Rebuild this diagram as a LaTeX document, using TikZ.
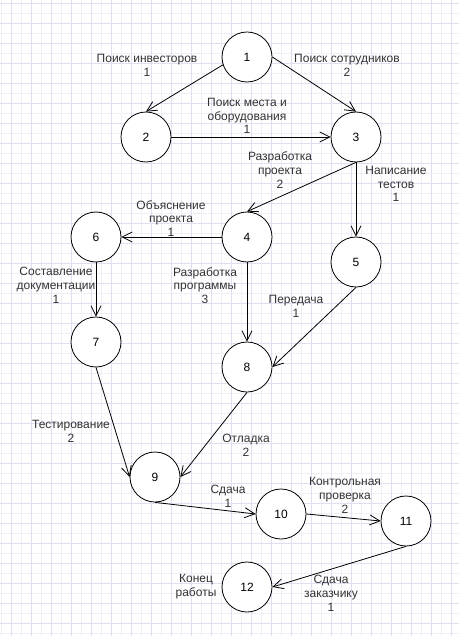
\documentclass[tikz,border=0pt]{standalone}
\usepackage{fontspec}
\setmainfont{Liberation Sans}
\usetikzlibrary{arrows.meta}
\definecolor{gridA}{HTML}{DFDFF0}
\definecolor{gridB}{HTML}{EFEFF7}
\definecolor{txt}{HTML}{333333}
\begin{document}
\begin{tikzpicture}[x=1pt,y=-1pt,
  ev/.style={circle,draw=black,fill=white,minimum size=50pt,inner sep=0pt,line width=0.8pt,font=\fontsize{12}{14}\selectfont},
  lbl/.style={align=center,text=txt,font=\fontsize{12}{13.8}\selectfont,inner sep=0pt},
  act/.style={draw=black,line width=0.8pt,-{Straight Barb[length=10pt,width=10pt,line width=0.8pt]}}]
\useasboundingbox (0,0) rectangle (459,636);
\fill[white] (0,0) rectangle (459,636);
\foreach \x in {1.7,21.7,...,459} \draw[gridB,line width=0.8pt] (\x,0) -- (\x,636);
\foreach \y in {13.3,33.3,...,636} \draw[gridB,line width=0.8pt] (0,\y) -- (459,\y);
\foreach \x in {11.7,31.7,...,459} \draw[gridA,line width=0.8pt] (\x,0) -- (\x,636);
\foreach \y in {3.3,23.3,...,636} \draw[gridA,line width=0.8pt] (0,\y) -- (459,\y);

\node[ev] (n1) at (247,57) {1};
\node[ev] (n2) at (146,137) {2};
\node[ev] (n3) at (356,137) {3};
\node[ev] (n4) at (247,237) {4};
\node[ev] (n5) at (356,262) {5};
\node[ev] (n6) at (96,237) {6};
\node[ev] (n7) at (96,342) {7};
\node[ev] (n8) at (247,367) {8};
\node[ev] (n9) at (155,477) {9};
\node[ev] (n10) at (281,514) {10};
\node[ev] (n11) at (406,521) {11};
\node[ev] (n12) at (247,587) {12};

\draw[act] (n1.198) -- (n2.north);
\draw[act] (n1.east) -- (n3.north);
\draw[act] (n2.east) -- (n3.west);
\draw[act] (n3.south) -- (n4.north);
\draw[act] (n3.south) -- (n5.north);
\draw[act] (n4.west) -- (n6.east);
\draw[act] (n6.south) -- (n7.north);
\draw[act] (n4.south) -- (n8.north);
\draw[act] (n5.south) -- (n8.east);
\draw[act] (n7.south) -- (n9.west);
\draw[act] (n8.south) -- (n9.east);
\draw[act] (n9.south) -- (n10.west);
\draw[act] (n10.east) -- (n11.west);
\draw[act] (n11.south) -- (n12.east);

\node[lbl] (l12) at (147,65.5) {Поиск инвесторов\\1};
\node[lbl] (l13) at (347,65.5) {Поиск сотрудников\\2};
\node[lbl] (l23) at (247,116) {Поиск места и\\оборудования\\1};
\node[lbl] (l34) at (280,170) {Разработка\\проекта\\2};
\node[lbl] (l35) at (396,184) {Написание\\тестов\\1};
\node[lbl] (l46) at (171,218.5) {Объяснение\\проекта\\1};
\node[lbl] (l67) at (56,285.5) {Составление\\документации\\1};
\node[lbl] (l48) at (205,285.5) {Разработка\\программы\\3};
\node[lbl] (l58) at (296,306.5) {Передача\\1};
\node[lbl] (l79) at (71,431) {Тестирование\\2};
\node[lbl] (l89) at (246,445) {Отладка\\2};
\node[lbl] (l910) at (228,496) {Сдача\\1};
\node[lbl] (l1011) at (345,495.5) {Контрольная\\проверка\\2};
\node[lbl] (l1112) at (331,593.5) {Сдача\\заказчику\\1};
\node[lbl] (lend) at (196,587) {Конец\\работы};
\end{tikzpicture}
\end{document}
